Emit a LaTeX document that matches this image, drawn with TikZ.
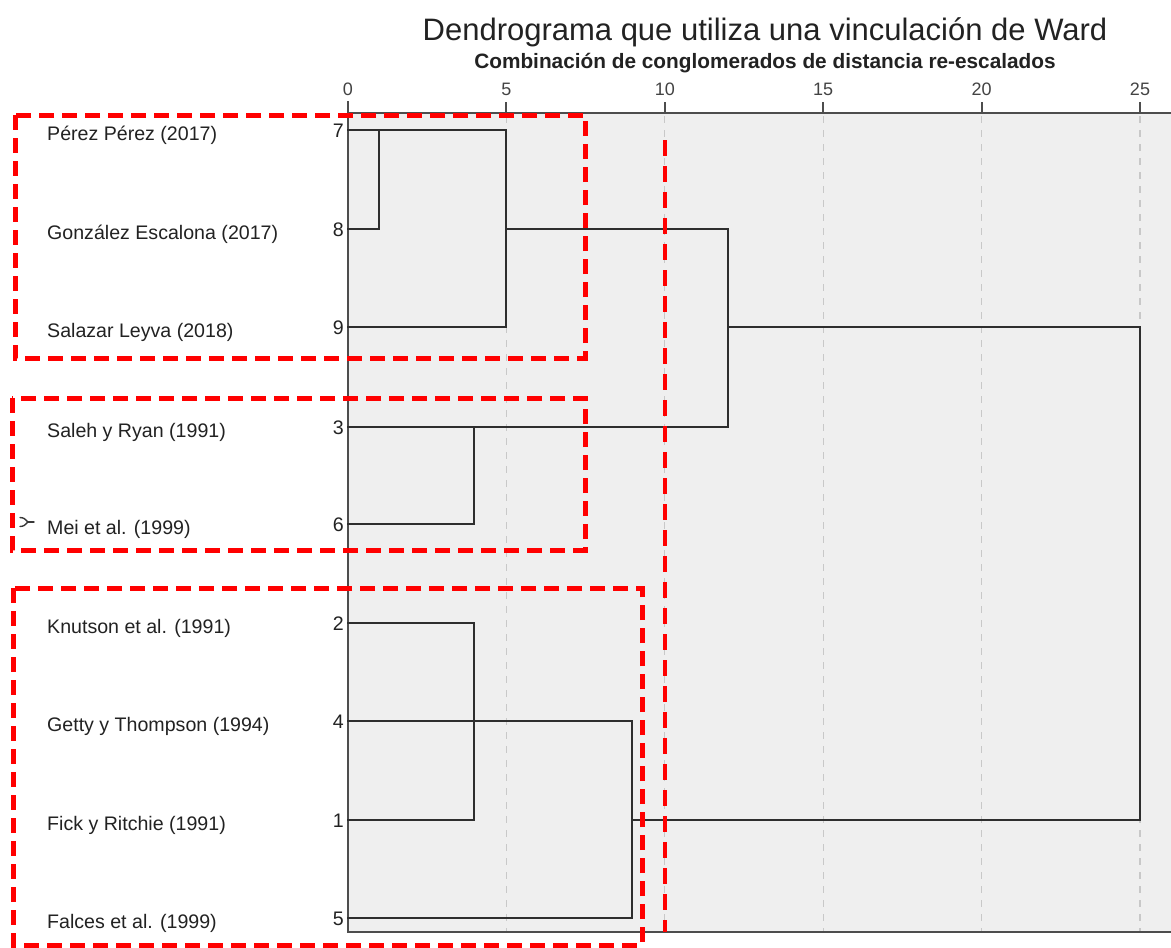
\documentclass[tikz,border=0pt]{standalone}
\usepackage{fontspec}
\setmainfont{Liberation Sans}
\definecolor{plotbg}{HTML}{EFEFEF}
\definecolor{gridgray}{HTML}{C8C8C8}
\definecolor{inkgray}{HTML}{2E2E2E}
\definecolor{textgray}{HTML}{222222}
\definecolor{markred}{HTML}{FF0000}
\tikzset{
  link/.style={draw=inkgray, line width=2pt, line cap=rect},
  axisline/.style={draw=inkgray!85, line width=2.4pt},
  gridline/.style={draw=gridgray, line width=1.2pt, dash pattern=on 7pt off 7pt},
  redbox/.style={draw=markred, line width=5pt, dash pattern=on 15pt off 8pt},
  redcut/.style={draw=markred, line width=4pt, dash pattern=on 16pt off 10pt},
  leaflabel/.style={anchor=base west, inner sep=0pt, text=textgray, font=\fontsize{19.6}{22}\selectfont},
  leafnum/.style={anchor=base east, inner sep=0pt, text=textgray, font=\fontsize{19.6}{22}\selectfont},
  ticklabel/.style={anchor=base, inner sep=0pt, text=textgray!85, font=\fontsize{18}{20}\selectfont},
  selmark/.style={draw=textgray!90, line width=1.4pt, line cap=round, line join=round},
}
\begin{document}
\begin{tikzpicture}[x=1pt, y=-1pt]
\useasboundingbox (0,0) rectangle (1171,948);
\fill[white] (0,0) rectangle (1171,948);

% plot area
\fill[plotbg] (348,113) rectangle (1171,932);
\foreach \t in {5,10,15,20,25}
  \draw[gridline] ({348+31.68*\t},116) -- ({348+31.68*\t},931);

% titles
\node[anchor=base, inner sep=0pt, text=textgray, font=\fontsize{31}{34}\selectfont] (title) at (765,40)
  {Dendrograma que utiliza una vinculación de Ward};
\node[anchor=base, inner sep=0pt, text=textgray, font=\bfseries\fontsize{20.8}{23}\selectfont] (subtitle) at (765,68)
  {Combinación de conglomerados de distancia re-escalados};

% axis and ticks
\draw[axisline] (348,101) -- (348,932) -- (1171,932);
\draw[axisline] (348,113) -- (1171,113);
\foreach \t in {0,5,10,15,20,25}{
  \draw[axisline, line width=2pt] ({348+31.68*\t},102) -- ({348+31.68*\t},113);
  \node[ticklabel] (tick\t) at ({348+31.68*\t},95) {\t};
}

% leaves: label, case number and start point of each branch
\foreach \num/\yy/\txt in {
  7/130/{Pérez Pérez (2017)},
  8/229/{González Escalona (2017)},
  9/327/{Salazar Leyva (2018)},
  3/427/{Saleh y Ryan (1991)},
  6/524/{Mei et al. (1999)},
  2/623/{Knutson et al. (1991)},
  4/721/{Getty y Thompson (1994)},
  1/820/{Fick y Ritchie (1991)},
  5/918/{Falces et al. (1999)}}{
  \node[leaflabel] (name\num) at (47,\yy+10) {\txt};
  \node[leafnum] (num\num) at (344,\yy+7.5) {\num};
  \coordinate (p\num) at (348,\yy);
}

% selection marker beside case 6
\coordinate (markTip) at (28,522);
\coordinate (markEnd) at (34,522);
\draw[selmark] (20,517.5) .. controls (24,518) .. (markTip);
\draw[selmark] (20,526.5) .. controls (24,526) .. (markTip);
\draw[selmark] (markTip) -- (markEnd);

% merge points
\coordinate (k78)    at (379,130);
\coordinate (k789)   at (506,130);
\coordinate (k789m)  at (506,229);
\coordinate (kA)     at (728,229);
\coordinate (kAm)    at (728,327);
\coordinate (k36)    at (474,427);
\coordinate (k21)    at (474,820);
\coordinate (k4)     at (632,721);
\coordinate (k4m)    at (632,820);
\coordinate (kroot)  at (1140,327);

% dendrogram branches
\draw[link] (p8) -| (k78);
\draw[link] (p7) -- (k789);
\draw[link] (p9) -| (k789);
\draw[link] (k789m) -- (kA);
\draw[link] (p3) -| (kA);
\draw[link] (p6) -| (k36);
\draw[link] (kAm) -- (kroot);
\draw[link] (p2) -| (k21);
\draw[link] (p1) -- (k21);
\draw[link] (p4) -- (k4);
\draw[link] (p5) -| (k4);
\draw[link] (k4m) -| (kroot);

% highlighted groups and cut line
\draw[redbox] (15,115) rectangle (585,358);
\draw[redbox] (12,398) rectangle (585,550);
\draw[redbox] (13,588) rectangle (642,945);
\coordinate (cutTop) at (665,140);
\coordinate (cutBot) at (665,932);
\draw[redcut] (cutTop) -- (cutBot);
\end{tikzpicture}
\end{document}
